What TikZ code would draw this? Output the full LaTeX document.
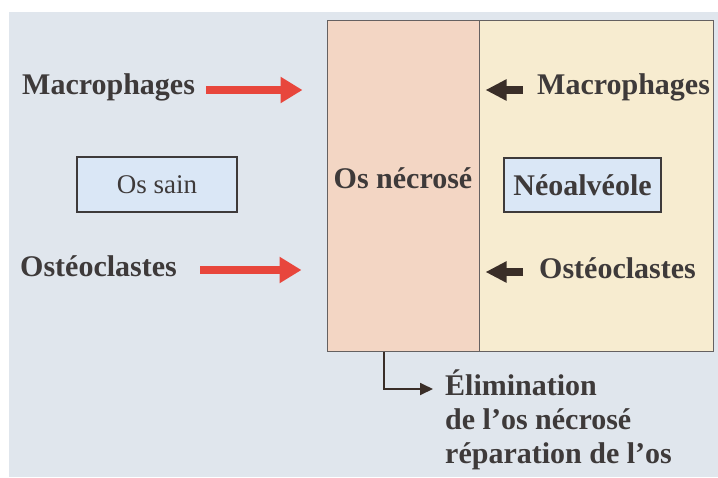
\documentclass[tikz,border=0pt]{standalone}
\usepackage{fontspec}
\setmainfont{Liberation Serif}
\usetikzlibrary{arrows.meta,positioning}

\definecolor{slidebg}{RGB}{224,230,237}
\definecolor{necrofill}{RGB}{243,214,196}
\definecolor{neofill}{RGB}{247,236,208}
\definecolor{boxfill}{RGB}{218,231,246}
\definecolor{inkgray}{RGB}{62,58,58}
\definecolor{arrowred}{RGB}{232,70,60}
\definecolor{arrowdark}{RGB}{58,46,40}

\tikzset{
  celltext/.style={text=inkgray, inner sep=0pt, font=\fontsize{30}{34}\selectfont\bfseries},
  zone/.style={draw=inkgray!80, line width=1pt},
  bonebox/.style={draw=inkgray, line width=1.2pt, fill=boxfill},
  redarrow/.style={draw=arrowred, line width=8pt, -{Triangle[length=22pt,width=25pt]}},
  darkarrow/.style={draw=arrowdark, line width=8.5pt, -{Triangle[length=21pt,width=20pt]}},
  elimarrow/.style={draw=arrowdark, line width=1.8pt, -{Triangle[length=13pt,width=12pt]}}
}

\begin{document}
\begin{tikzpicture}[x=1pt,y=-1pt]
  % Slide and margins
  \fill[white] (0,0) rectangle (718,477);
  \fill[slidebg] (9,12) rectangle (718,477);
  \useasboundingbox (0,0) rectangle (718,477);

  % Bone zones
  \node[zone, fill=necrofill, minimum width=152pt, minimum height=331pt] (necro) at (403,185.5) {};
  \node[zone, fill=neofill, minimum width=234pt, minimum height=331pt] (neo) at (596,185.5) {};
  \node[celltext] (necroT) at (403,178) {Os nécrosé};

  % Boxes
  \node[bonebox, minimum width=160pt, minimum height=55pt,
        font=\fontsize{27}{30}\selectfont, text=inkgray] (sain) at (157,184.5) {Os sain};
  \node[bonebox, minimum width=157pt, minimum height=54pt, celltext, inner sep=3pt] (alveole) at (582.5,185) {Néoalvéole};

  % Cells on the healthy side
  \node[celltext, anchor=west] (macL) at (22,87) {Macrophages};
  \node[celltext, anchor=west] (ostL) at (20,266) {Ostéoclastes};
  \draw[redarrow, shorten <=11pt, shorten >=24pt] ([yshift=-3pt]macL.east) -- ([yshift=-3pt]macL.east -| necro.west);
  \draw[redarrow, shorten <=23pt, shorten >=25pt] ([yshift=-4pt]ostL.east) -- ([yshift=-4pt]ostL.east -| necro.west);

  % Cells on the new side
  \node[celltext, anchor=west] (macR) at (537,87) {Macrophages};
  \node[celltext, anchor=west] (ostR) at (539,268) {Ostéoclastes};
  \draw[darkarrow, shorten <=14pt, shorten >=7pt] ([yshift=-3pt]macR.west) -- ([yshift=-3pt]macR.west -| neo.west);
  \draw[darkarrow, shorten <=16pt, shorten >=7pt] ([yshift=-4pt]ostR.west) -- ([yshift=-4pt]ostR.west -| neo.west);

  % Outcome
  \node[celltext, anchor=north west, align=left] (elim) at (445,370)
    {Élimination\\de l’os nécrosé\\réparation de l’os};
  \draw[elimarrow] ([xshift=-19pt]necro.south) |- ([xshift=-12pt,yshift=-19pt]elim.north west);
\end{tikzpicture}
\end{document}
